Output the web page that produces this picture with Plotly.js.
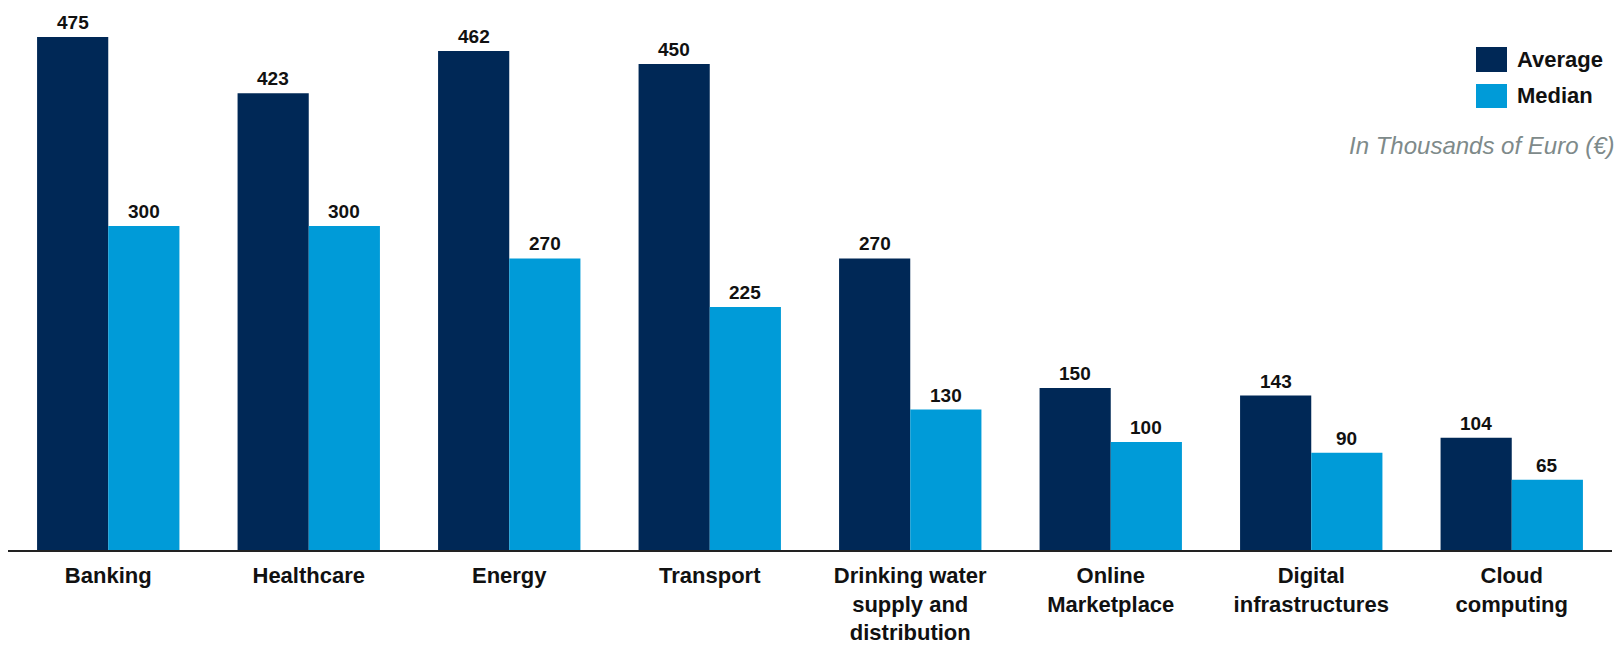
<!DOCTYPE html>
<html>
<head>
<meta charset="utf-8">
<script src="https://cdn.plot.ly/plotly-3.0.1.min.js"></script>
<style>html,body{margin:0;padding:0;background:#fff;}#chart{width:1617px;height:646px;}</style>
</head>
<body>
<div id="chart"></div>
<script>
const categories = ["Banking", "Healthcare", "Energy", "Transport", "Drinking water<br>supply and<br>distribution", "Online<br>Marketplace", "Digital<br>infrastructures", "Cloud<br>computing"];
const averageValues = [475, 423, 462, 450, 270, 150, 143, 104];
const medianValues = [300, 300, 270, 225, 130, 100, 90, 65];
const seriesNames = ["Average", "Median"];
const unitNote = "In Thousands of Euro (€)";

const W = 1617, H = 646;
const M = {l: 8, r: 5, t: 10, b: 96};
const pw = W - M.l - M.r, ph = H - M.t - M.b;
const px = x => (x - M.l) / pw;
const py = y => (H - M.b - y) / ph;

const FONT = "Liberation Sans, Arial, sans-serif";
const colors = ["#002856", "#009BD8"];
const BARGAP = 0.29;
const series = [averageValues, medianValues];
const barHalfPx = pw / categories.length * (1 - BARGAP) / series.length / 2;

const data = series.map((vals, i) => ({
  type: "bar", name: seriesNames[i], x: categories, y: vals,
  marker: {color: colors[i]},
  hoverinfo: "skip", showlegend: false
}));

const swatches = [[47, 72], [84, 108]];
const shapes = swatches.map((s, i) => ({
  type: "rect", xref: "paper", yref: "paper",
  x0: px(1476), x1: px(1507), y0: py(s[1]), y1: py(s[0]),
  fillcolor: colors[i], line: {width: 0}
}));
const annotations = seriesNames.map((n, i) => ({
  xref: "paper", yref: "paper", x: px(1515), y: py((swatches[i][0] + swatches[i][1]) / 2),
  xanchor: "left", yanchor: "middle", showarrow: false, text: n,
  font: {family: FONT, size: 22, color: "#111", weight: "bold"}
}));
annotations.push({
  xref: "paper", yref: "paper", x: px(1616), y: py(145),
  xanchor: "right", yanchor: "middle", showarrow: false, text: "<i>" + unitNote + "</i>",
  font: {family: FONT, size: 24, color: "#7E8A8A"}
});
// value labels above each bar
series.forEach((vals, s) => {
  vals.forEach((v, i) => {
    annotations.push({
      xref: "x", yref: "y", x: categories[i], y: v,
      xshift: (s === 0 ? -1 : 1) * barHalfPx, yshift: 2,
      xanchor: "center", yanchor: "bottom", showarrow: false, text: String(v),
      font: {family: FONT, size: 19, color: "#111", weight: "bold"}
    });
  });
});

const layout = {
  width: W, height: H, margin: M,
  paper_bgcolor: "#fff", plot_bgcolor: "#fff",
  barmode: "group", bargap: BARGAP, bargroupgap: 0,
  xaxis: {
    showline: true, linecolor: "#222", linewidth: 1.5, showgrid: false, zeroline: false,
    ticks: "", ticklabelstandoff: 5,
    tickfont: {family: FONT, size: 22, color: "#111", weight: "bold"}, fixedrange: true
  },
  yaxis: {range: [0, 500], visible: false, showgrid: false, zeroline: false, fixedrange: true},
  shapes: shapes, annotations: annotations, showlegend: false
};

Plotly.newPlot("chart", data, layout, {displayModeBar: false, staticPlot: true});
</script>
</body>
</html>
